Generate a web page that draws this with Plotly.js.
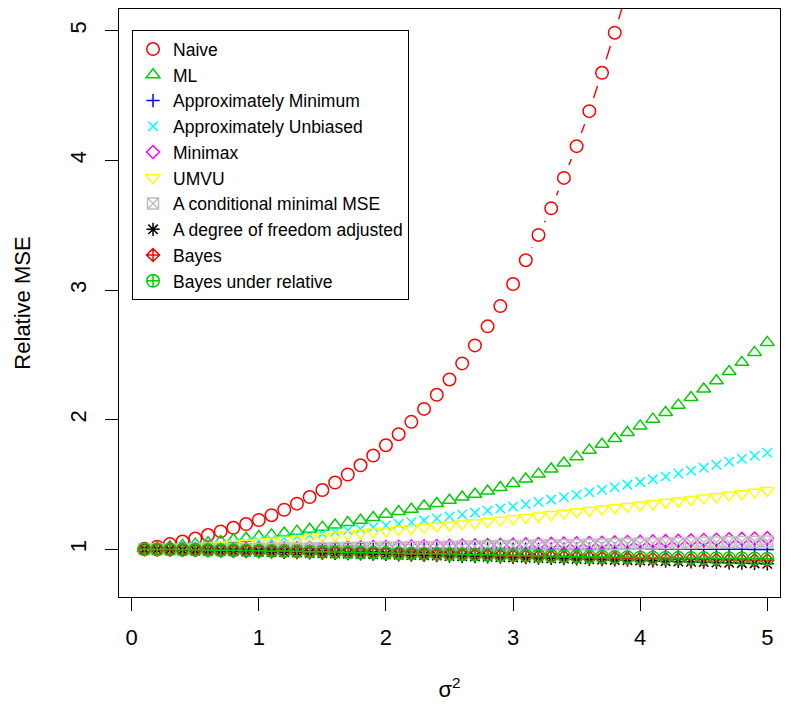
<!DOCTYPE html>
<html><head><meta charset="utf-8">
<script src="https://cdn.plot.ly/plotly-3.0.1.min.js"></script>
<style>html,body{margin:0;padding:0;background:#fff}#chart{width:785px;height:705px}</style>
</head><body><div id="chart"></div>
<script>
const sigma2 = [0.1,0.2,0.3,0.4,0.5,0.6,0.7,0.8,0.9,1.0,1.1,1.2,1.3,1.4,1.5,1.6,1.7,1.8,1.9,2.0,2.1,2.2,2.3,2.4,2.5,2.6,2.7,2.8,2.9,3.0,3.1,3.2,3.3,3.4,3.5,3.6,3.7,3.8,3.9,4.0,4.1,4.2,4.3,4.4,4.5,4.6,4.7,4.8,4.9,5.0];
const naive = [1.005,1.02,1.04,1.06,1.083,1.11,1.138,1.166,1.195,1.226,1.263,1.305,1.352,1.403,1.457,1.515,1.577,1.648,1.723,1.803,1.888,1.983,2.083,2.192,2.310,2.434,2.573,2.72,2.876,3.046,3.23,3.425,3.63,3.865,4.11,4.38,4.676,4.985,5.32,5.68,6.06,6.47,6.91,7.38,7.88,8.41,8.98,9.59,10.24,10.93];
const ml = [1.005,1.012,1.02,1.03,1.04,1.05,1.061,1.073,1.085,1.098,1.111,1.125,1.14,1.155,1.171,1.188,1.206,1.224,1.245,1.27,1.291,1.309,1.334,1.353,1.378,1.404,1.425,1.45,1.476,1.507,1.542,1.58,1.62,1.665,1.713,1.765,1.811,1.855,1.901,1.952,2.004,2.055,2.112,2.171,2.236,2.30,2.372,2.442,2.519,2.596];
const approxMin = [1.000,1.000,1.000,1.001,1.001,1.001,1.002,1.002,1.002,1.002,1.003,1.003,1.003,1.003,1.003,1.003,1.003,1.003,1.003,1.003,1.003,1.003,1.003,1.003,1.003,1.003,1.003,1.003,1.003,1.002,1.002,1.002,1.002,1.002,1.002,1.002,1.001,1.001,1.001,1.001,1.001,1.001,1.000,1.000,1.000,1.000,1.000,1.000,0.999,0.999];
const approxUnb = [1.0,1.004,1.009,1.015,1.022,1.03,1.038,1.047,1.056,1.066,1.076,1.087,1.098,1.109,1.121,1.133,1.145,1.157,1.17,1.183,1.196,1.209,1.223,1.238,1.253,1.268,1.283,1.298,1.314,1.33,1.347,1.365,1.383,1.402,1.421,1.44,1.459,1.479,1.499,1.52,1.541,1.562,1.584,1.606,1.629,1.652,1.675,1.698,1.721,1.745];
const minimax = [1.0,1.0,1.001,1.001,1.002,1.002,1.003,1.004,1.005,1.006,1.007,1.008,1.009,1.01,1.011,1.012,1.014,1.015,1.017,1.018,1.02,1.021,1.023,1.025,1.026,1.028,1.03,1.032,1.034,1.036,1.038,1.04,1.042,1.044,1.046,1.049,1.051,1.053,1.056,1.058,1.061,1.063,1.066,1.069,1.071,1.074,1.077,1.08,1.083,1.086];
const umvu = [1.0,1.003,1.007,1.012,1.018,1.024,1.031,1.038,1.046,1.054,1.062,1.07,1.079,1.088,1.097,1.106,1.115,1.124,1.133,1.142,1.151,1.16,1.169,1.178,1.187,1.196,1.205,1.215,1.225,1.235,1.246,1.257,1.268,1.279,1.29,1.30,1.31,1.32,1.331,1.342,1.352,1.363,1.373,1.384,1.395,1.406,1.418,1.429,1.441,1.453];
const condMinMSE = [1.0,1.0,1.0,1.001,1.001,1.002,1.002,1.003,1.003,1.004,1.005,1.006,1.007,1.007,1.008,1.009,1.01,1.011,1.012,1.013,1.014,1.016,1.017,1.018,1.019,1.021,1.022,1.023,1.025,1.026,1.028,1.029,1.031,1.032,1.034,1.035,1.037,1.039,1.04,1.042,1.044,1.046,1.047,1.049,1.051,1.053,1.055,1.057,1.059,1.061];
const dfAdjusted = [0.999,0.997,0.995,0.993,0.991,0.989,0.987,0.985,0.983,0.981,0.979,0.977,0.975,0.972,0.97,0.968,0.966,0.964,0.962,0.96,0.957,0.955,0.953,0.951,0.948,0.946,0.944,0.942,0.939,0.937,0.935,0.932,0.93,0.928,0.925,0.923,0.921,0.918,0.916,0.913,0.911,0.908,0.906,0.903,0.901,0.898,0.896,0.893,0.891,0.888];
const bayes = [1.0,0.999,0.998,0.996,0.995,0.993,0.992,0.99,0.988,0.987,0.985,0.983,0.981,0.979,0.978,0.976,0.974,0.972,0.97,0.968,0.966,0.964,0.962,0.96,0.958,0.956,0.954,0.952,0.95,0.948,0.946,0.944,0.942,0.94,0.938,0.936,0.934,0.932,0.93,0.928,0.927,0.925,0.923,0.922,0.92,0.919,0.918,0.917,0.916,0.915];
const bayesRel = [1.0,0.999,0.998,0.997,0.996,0.995,0.993,0.992,0.99,0.989,0.987,0.986,0.984,0.982,0.981,0.979,0.977,0.975,0.974,0.972,0.97,0.968,0.966,0.965,0.963,0.961,0.959,0.957,0.956,0.954,0.952,0.95,0.948,0.947,0.945,0.943,0.942,0.94,0.939,0.937,0.936,0.935,0.934,0.933,0.932,0.931,0.93,0.93,0.929,0.928];

const seriesNames = ["Naive","ML","Approximately Minimum","Approximately Unbiased","Minimax","UMVU","A conditional minimal MSE","A degree of freedom adjusted","Bayes","Bayes under relative"];
const seriesValues = [naive, ml, approxMin, approxUnb, minimax, umvu, condMinMSE, dfAdjusted, bayes, bayesRel];
const colors = ["#FF0000","#00CD00","#0000FF","#00FFFF","#FF00FF","#FFFF00","#BEBEBE","#000000","#FF0000","#00CD00"];
const symbols = ["circle-open","triangle-up-open","cross-thin-open","x-thin-open","diamond-open","triangle-down-open","square-x-open","asterisk-open","diamond-cross-open","circle-cross-open"];
const sizes = [12.5,12,9.5,9.5,10,12,11,11,10,12.5];

const traces = [];
seriesValues.forEach((vals, i) => {
  // type="b": connecting line with gaps around each point
  traces.push({x: sigma2, y: vals, type: "scatter", mode: "lines", showlegend: false,
    line: {color: colors[i], width: 1.4}, hoverinfo: "skip"});
  traces.push({x: sigma2, y: vals, type: "scatter", mode: "markers", showlegend: false, hoverinfo: "skip",
    marker: {symbol: "circle", size: 28, color: "#FFFFFF", line: {width: 0}}});
});
seriesValues.forEach((vals, i) => {
  traces.push({x: sigma2, y: vals, type: "scatter", mode: "markers", name: seriesNames[i],
    marker: {symbol: symbols[i], size: sizes[i], color: colors[i], line: {color: colors[i], width: 1.5}}});
});

const font = "Liberation Sans, Arial, Helvetica, sans-serif";
const layout = {
  width: 785, height: 705,
  margin: {l: 119, r: 5, t: 9, b: 108},
  paper_bgcolor: "#fff", plot_bgcolor: "#fff",
  font: {family: font, color: "#000", size: 22},
  showlegend: true,
  legend: {x: 0.0197, y: 0.964, xanchor: "left", yanchor: "top", bgcolor: "#fff",
    bordercolor: "#000", borderwidth: 1, font: {family: font, size: 17.5, color: "#000"},
    itemwidth: 30, tracegroupgap: 0},
  xaxis: {range: [-0.1, 5.1], tickvals: [0,1,2,3,4,5], ticktext: ["0","1","2","3","4","5"],
    showgrid: false, zeroline: false, showline: true, mirror: true, linecolor: "#000", linewidth: 1,
    ticks: "outside", ticklen: 13, tickcolor: "#000", tickwidth: 1, ticklabelstandoff: 8,
    tickfont: {size: 22},
    title: {text: "σ<sup>2</sup>", font: {size: 22}, standoff: 32}},
  yaxis: {range: [0.632, 5.168], tickvals: [1,2,3,4,5], ticktext: ["1","2","3","4","5"],
    showgrid: false, zeroline: false, showline: true, mirror: true, linecolor: "#000", linewidth: 1,
    ticks: "outside", ticklen: 13, tickcolor: "#000", tickwidth: 1, tickangle: -90, ticklabelstandoff: 10,
    tickfont: {size: 22},
    title: {text: "Relative MSE", font: {size: 22}, standoff: 29}}
};
Plotly.newPlot("chart", traces, layout, {displayModeBar: false, staticPlot: true});
</script></body></html>
